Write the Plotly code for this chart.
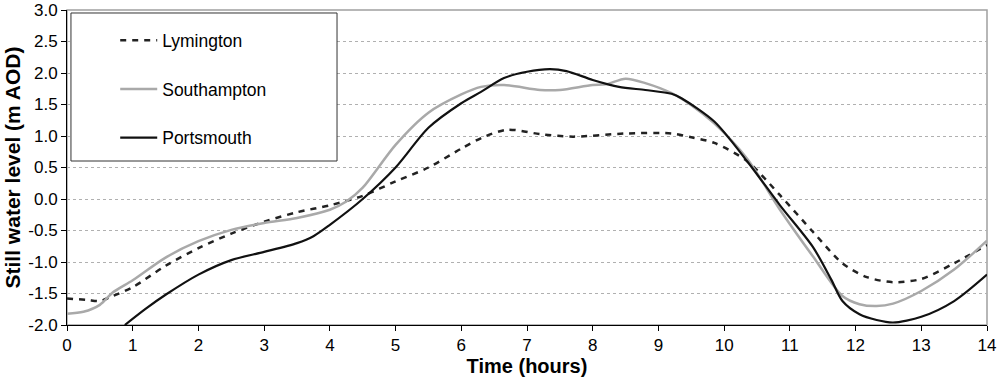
import plotly.graph_objects as go

# ---- data ----
lym_t = [0, 0.3, 0.5, 0.65, 1.0, 1.5, 2.0, 2.5, 3.0, 3.5, 4.0, 4.5, 5.0, 5.5, 6.0, 6.33,
         6.7, 7.2, 7.7, 8.5, 9.2, 9.5, 9.85, 10.35, 10.85, 11.35, 11.8, 12.17, 12.57,
         13.0, 13.5, 14.0]
lym_v = [-1.58, -1.60, -1.62, -1.56, -1.40, -1.06, -0.78, -0.55, -0.36, -0.21, -0.10,
         0.05, 0.28, 0.50, 0.80, 0.98, 1.10, 1.03, 0.99, 1.04, 1.04, 0.98, 0.89, 0.60,
         0.06, -0.52, -1.02, -1.24, -1.32, -1.27, -1.02, -0.73]

sot_t = [0, 0.25, 0.5, 0.7, 1.0, 1.5, 2.0, 2.5, 3.0, 3.5, 4.0, 4.25, 4.5, 5.0, 5.5, 6.0, 6.3,
         6.65, 7.2, 7.5, 8.0, 8.2, 8.5, 8.8, 9.2, 9.5, 9.85, 10.35, 10.85, 11.35, 11.8,
         12.06, 12.32, 12.57, 13.0, 13.5, 14.0]
sot_v = [-1.82, -1.79, -1.68, -1.48, -1.29, -0.93, -0.67, -0.49, -0.38, -0.30, -0.17, -0.04,
         0.18, 0.86, 1.37, 1.66, 1.78, 1.81, 1.73, 1.73, 1.81, 1.82, 1.91, 1.84, 1.68,
         1.49, 1.20, 0.64, -0.17, -0.91, -1.54, -1.67, -1.70, -1.66, -1.46, -1.12, -0.66]

por_t = [0.88, 1.2, 1.5, 2.0, 2.5, 3.0, 3.5, 3.75, 4.0, 4.5, 5.0, 5.5, 6.0, 6.3, 6.65,
         7.0, 7.35, 7.6, 8.0, 8.4, 8.8, 9.2, 9.35, 9.85, 10.35, 10.85, 11.35, 11.63,
         11.8, 12.06, 12.32, 12.57, 13.0, 13.5, 14.0]
por_v = [-2.0, -1.74, -1.52, -1.20, -0.97, -0.84, -0.70, -0.59, -0.41, 0.0, 0.50, 1.13,
         1.52, 1.70, 1.92, 2.02, 2.06, 2.03, 1.89, 1.78, 1.73, 1.67, 1.60, 1.23, 0.60,
         -0.10, -0.76, -1.28, -1.62, -1.83, -1.92, -1.96, -1.87, -1.62, -1.20]

series_names = ["Lymington", "Southampton", "Portsmouth"]
x_ticks = list(range(0, 15))
y_ticks = [-2.0, -1.5, -1.0, -0.5, 0.0, 0.5, 1.0, 1.5, 2.0, 2.5, 3.0]

FONT = "Liberation Sans, Arial, sans-serif"

fig = go.Figure()
fig.add_trace(go.Scatter(x=lym_t, y=lym_v, name=series_names[0], mode="lines",
                         line=dict(color="#222222", width=2.5, dash="6px,6px", shape="spline", smoothing=0.8),
                         legendgroup="a"))
fig.add_trace(go.Scatter(x=sot_t, y=sot_v, name=series_names[1], mode="lines",
                         line=dict(color="#a9a9a9", width=2.5, shape="spline", smoothing=0.8),
                         legendgroup="b"))
fig.add_trace(go.Scatter(x=por_t, y=por_v, name=series_names[2], mode="lines",
                         line=dict(color="#111111", width=2.2, shape="spline", smoothing=0.8),
                         legendgroup="c"))

# plot border (top/right in grey)
fig.add_shape(type="rect", xref="paper", yref="paper", x0=0, x1=1, y0=0, y1=1,
              line=dict(color="#a0a0a0", width=1.5), layer="below")
# legend box
fig.add_shape(type="rect", xref="paper", yref="paper", x0=0.0043, x1=0.2935, y0=0.5206, y1=0.9905,
              line=dict(color="#333333", width=1), fillcolor="white", layer="above")

fig.update_layout(
    width=1000, height=380,
    margin=dict(l=67, r=13, t=10, b=55, autoexpand=False),
    paper_bgcolor="white", plot_bgcolor="white",
    font=dict(family=FONT, size=17, color="black"),
    showlegend=True,
    legend=dict(x=0.0524, y=0.961, xanchor="left", yanchor="top",
                bgcolor="rgba(0,0,0,0)", borderwidth=0,
                traceorder="grouped", tracegroupgap=23, itemwidth=37,
                font=dict(family=FONT, size=17.5, color="black")),
    xaxis=dict(range=[0, 14], tickvals=x_ticks, ticktext=[str(v) for v in x_ticks],
               showgrid=False, zeroline=False, showline=True, linecolor="black", linewidth=1,
               ticks="outside", ticklen=5, tickcolor="black", automargin=False,
               ticklabeloverflow="allow",
               tickfont=dict(family=FONT, size=17),
               title=dict(text="<b>Time (hours)</b>", font=dict(family=FONT, size=20), standoff=2)),
    yaxis=dict(range=[-2, 3], tickvals=y_ticks, ticktext=[f"{v:.1f}" for v in y_ticks],
               showgrid=True, gridcolor="#b0b0b0", griddash="dot", gridwidth=1,
               zeroline=False, showline=True, linecolor="black", linewidth=1,
               ticks="outside", ticklen=5, tickcolor="black", automargin=False,
               ticklabeloverflow="allow",
               tickfont=dict(family=FONT, size=17),
               title=dict(text="<b>Still water level (m AOD)</b>", font=dict(family=FONT, size=21), standoff=1)),
)

# remove the browser's default 8px body margin so the figure sits at the page origin
fig.write_html("out.html", config={"displayModeBar": False},
               post_script="document.body.style.margin='0';document.body.style.overflow='hidden';")
